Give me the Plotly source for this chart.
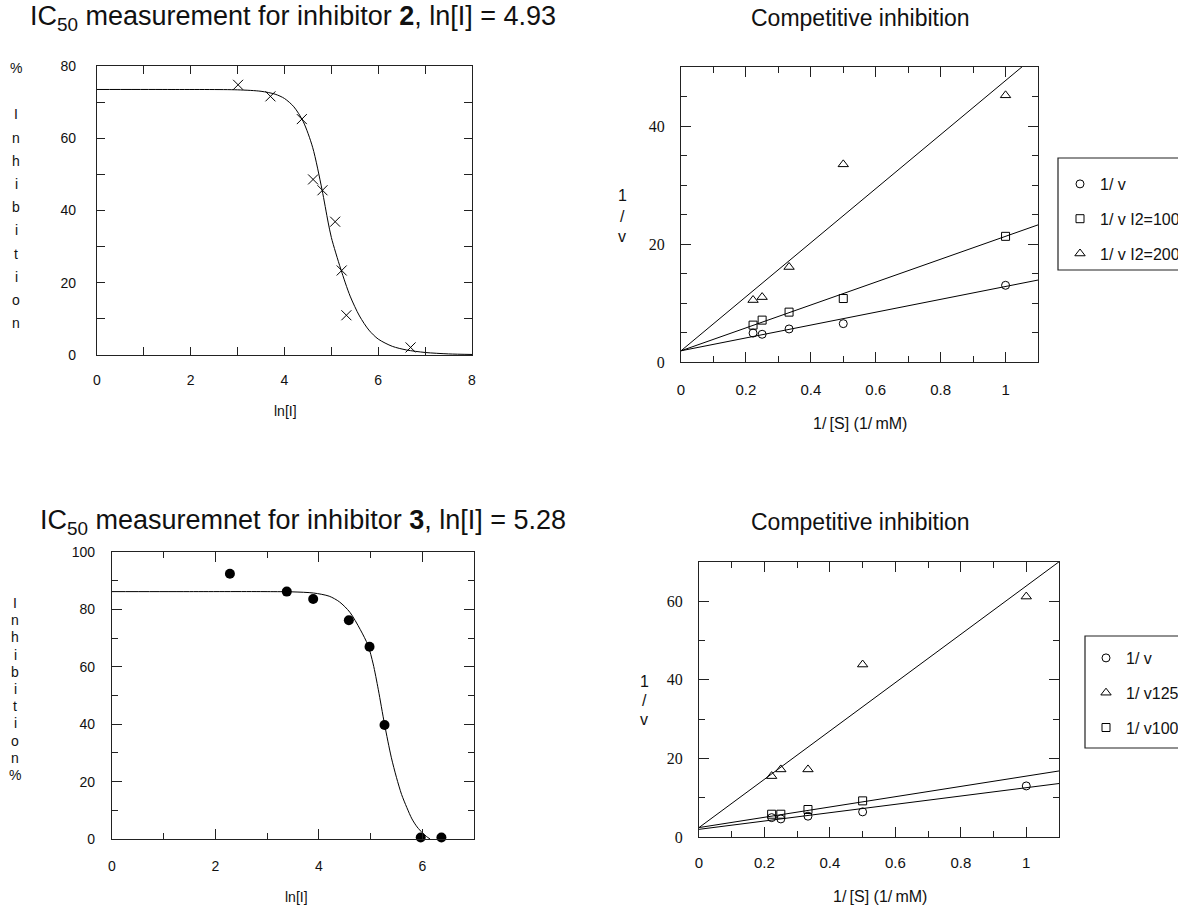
import plotly.graph_objects as go

W, H = 1178, 907

# ---------------- data ----------------
# Panel A: IC50 curve, inhibitor 2
a_lnI = [3.01, 3.70, 4.37, 4.61, 4.81, 5.08, 5.22, 5.32, 6.69]
a_inhib = [74.8, 71.6, 65.3, 48.6, 45.6, 36.9, 23.4, 11.0, 2.1]
a_fit_x = [0.0, 1.5, 3.0, 3.5, 3.8, 4.0, 4.2, 4.4, 4.6, 4.8, 4.93, 5.0, 5.2, 5.4, 5.6, 5.8, 6.0, 6.3, 6.6, 7.0, 7.5, 8.0]
a_fit_y = [73.5, 73.5, 73.4, 73.0, 72.2, 71.0, 68.7, 64.6, 57.5, 45.8, 36.8, 32.5, 23.8, 16.3, 10.8, 6.9, 4.4, 2.4, 1.4, 0.7, 0.3, 0.15]

# Panel C: IC50 curve, inhibitor 3
c_lnI = [2.28, 3.38, 3.89, 4.58, 4.98, 5.27, 5.97, 6.37]
c_inhib = [92.4, 86.2, 83.6, 76.2, 67.0, 39.7, 0.5, 0.5]
c_fit_x = [0.0, 1.5, 3.0, 3.5, 3.9, 4.2, 4.4, 4.6, 4.8, 4.95, 5.05, 5.15, 5.27, 5.4, 5.5, 5.6, 5.7, 5.8, 5.9, 6.0, 6.08, 6.15]
c_fit_y = [86.2, 86.2, 86.2, 86.1, 85.7, 84.6, 82.6, 79.0, 73.0, 67.5, 61.0, 52.0, 40.0, 28.5, 21.5, 15.5, 11.0, 7.0, 4.2, 2.2, 0.9, 0.0]

# Panel B: Lineweaver-Burk, inhibitor 2
b_s_inv = [0.222, 0.25, 0.333, 0.5, 1.0]
b_v_inv = [4.9, 4.7, 5.6, 6.5, 13.0]
b_v_inv_100 = [6.25, 7.1, 8.45, 10.76, 21.3]
b_v_inv_200 = [10.5, 11.0, 16.1, 33.5, 45.2]
b_names = ["1/ v", "1/ v I2=100", "1/ v I2=200"]
b_intercepts = [1.9, 1.9, 1.9]
b_slopes = [10.9, 19.4, 45.8]

# Panel D: Lineweaver-Burk, inhibitor 3
d_s_inv = [0.222, 0.25, 0.333, 0.5, 1.0]
d_v_inv = [4.93, 4.6, 5.3, 6.4, 13.0]
d_v_inv_125 = [15.5, 17.2, 17.2, 43.9, 61.2]
d_s_inv_100 = [0.222, 0.25, 0.333, 0.5]
d_v_inv_100 = [5.8, 5.8, 7.0, 9.2]
d_names = ["1/ v", "1/ v125", "1/ v100"]
d_intercepts = [1.95, 2.4, 2.4]
d_slopes = [10.6, 61.5, 13.1]

# ---------------- layout helpers ----------------
SANS = "Liberation Sans, Arial, sans-serif"
SERIF = "Liberation Serif"
INK = "#111111"

def xdom(l, r):
    return [l / W, r / W]

def ydom(t, b):
    return [1 - b / H, 1 - t / H]

def px_x(x):
    return x / W

def px_y(y):
    return 1 - y / H

fig = go.Figure()

mk_line = dict(color="black", width=1)

# Panel A
fig.add_trace(go.Scatter(x=a_fit_x, y=a_fit_y, mode="lines", line=dict(color="black", width=1, shape="spline", smoothing=0.8),
                         xaxis="x", yaxis="y", showlegend=False, hoverinfo="skip"))
fig.add_trace(go.Scatter(x=a_lnI, y=a_inhib, mode="markers",
                         marker=dict(symbol="x-thin", size=10, color="black", line=mk_line),
                         xaxis="x", yaxis="y", showlegend=False, cliponaxis=False))

# Panel B
b_series = [b_v_inv, b_v_inv_100, b_v_inv_200]
b_symbols = ["circle-open", "square-open", "triangle-up-open"]
b_sizes = [8, 8, 9]
b_xr = [0, 1.1]
for ic, sl in zip(b_intercepts, b_slopes):
    fig.add_trace(go.Scatter(x=b_xr, y=[ic + sl * xx for xx in b_xr], mode="lines", line=dict(color="black", width=1),
                             xaxis="x2", yaxis="y2", showlegend=False, hoverinfo="skip"))
for name, ys, sym, sz in zip(b_names, b_series, b_symbols, b_sizes):
    fig.add_trace(go.Scatter(x=b_s_inv, y=ys, mode="markers", name=name,
                             marker=dict(symbol=sym, size=sz, color="black", line=mk_line),
                             xaxis="x2", yaxis="y2", legend="legend", legendgroup="b" + name))

# Panel C
fig.add_trace(go.Scatter(x=c_fit_x, y=c_fit_y, mode="lines", line=dict(color="black", width=1, shape="spline", smoothing=0.8),
                         xaxis="x3", yaxis="y3", showlegend=False, hoverinfo="skip"))
fig.add_trace(go.Scatter(x=c_lnI, y=c_inhib, mode="markers",
                         marker=dict(symbol="circle", size=10, color="black"),
                         xaxis="x3", yaxis="y3", showlegend=False, cliponaxis=False))

# Panel D
d_series_x = [d_s_inv, d_s_inv, d_s_inv_100]
d_series_y = [d_v_inv, d_v_inv_125, d_v_inv_100]
d_symbols = ["circle-open", "triangle-up-open", "square-open"]
d_sizes = [8, 9, 8]
for ic, sl in zip(d_intercepts, d_slopes):
    fig.add_trace(go.Scatter(x=b_xr, y=[ic + sl * xx for xx in b_xr], mode="lines", line=dict(color="black", width=1),
                             xaxis="x4", yaxis="y4", showlegend=False, hoverinfo="skip"))
for name, xs, ys, sym, sz in zip(d_names, d_series_x, d_series_y, d_symbols, d_sizes):
    fig.add_trace(go.Scatter(x=xs, y=ys, mode="markers", name=name,
                             marker=dict(symbol=sym, size=sz, color="black", line=mk_line),
                             xaxis="x4", yaxis="y4", legend="legend2", legendgroup="d" + name))


def axis(domain, rng, dtick, minor_dtick, font, anchor, standoff, major_len=10, minor_len=6):
    return dict(domain=domain, range=rng, dtick=dtick, tick0=0, anchor=anchor,
                showline=True, linecolor="#222", linewidth=1.2, mirror="ticks",
                ticks="inside", ticklen=major_len, tickwidth=1, tickcolor="#222",
                minor=dict(dtick=minor_dtick, tick0=0, ticks="inside", ticklen=minor_len, tickwidth=1, tickcolor="#222", showgrid=False),
                showgrid=False, zeroline=False, tickfont=font, ticklabelstandoff=standoff, fixedrange=True)

f_left = dict(family=SANS, size=14, color=INK)
f_rx = dict(family=SANS, size=15, color=INK)
f_ry = dict(family=SERIF, size=16, color=INK)

TA = (97, 472, 66, 355)
TB = (681, 1038, 67, 362)
TC = (112, 474, 552, 839)
TD = (699, 1059, 562, 837)

fig.update_layout(
    width=W, height=H,
    margin=dict(l=0, r=0, t=0, b=0, autoexpand=False),
    paper_bgcolor="white", plot_bgcolor="white",
    xaxis=axis(xdom(TA[0], TA[1]), [0, 8], 2, 1, f_left, "y", 12, 8, 8),
    yaxis=axis(ydom(TA[2], TA[3]), [0, 80], 20, 10, f_left, "x", 17, 8, 8),
    xaxis2=axis(xdom(TB[0], TB[1]), [0, 1.1], 0.2, 0.1, f_rx, "y2", 14),
    yaxis2=axis(ydom(TB[2], TB[3]), [0, 50], 20, 5, f_ry, "x2", 12),
    xaxis3=axis(xdom(TC[0], TC[1]), [0, 7], 2, 1, f_left, "y3", 14),
    yaxis3=axis(ydom(TC[2], TC[3]), [0, 100], 20, 10, f_left, "x3", 13),
    xaxis4=axis(xdom(TD[0], TD[1]), [0, 1.1], 0.2, 0.1, f_rx, "y4", 12),
    yaxis4=axis(ydom(TD[2], TD[3]), [0, 70], 20, 10, f_ry, "x4", 12),
    legend=dict(x=px_x(1060), y=px_y(167), xanchor="left", yanchor="top", borderwidth=0, bgcolor="rgba(0,0,0,0)",
                font=dict(family=SANS, size=16, color=INK), tracegroupgap=11, itemclick=False, itemdoubleclick=False),
    legend2=dict(x=px_x(1086), y=px_y(641), xanchor="left", yanchor="top", borderwidth=0, bgcolor="rgba(0,0,0,0)",
                 font=dict(family=SANS, size=16, color=INK), tracegroupgap=11, itemclick=False, itemdoubleclick=False),
    showlegend=True,
)

# legend frames
fig.add_shape(type="rect", xref="paper", yref="paper", x0=px_x(1058), x1=px_x(1240), y0=px_y(270), y1=px_y(158),
              line=dict(color="#222", width=1.2), fillcolor="rgba(0,0,0,0)")
fig.add_shape(type="rect", xref="paper", yref="paper", x0=px_x(1085), x1=px_x(1240), y0=px_y(748), y1=px_y(636),
              line=dict(color="#222", width=1.2), fillcolor="rgba(0,0,0,0)")

ann = []

def text(x, y, s, size=13, family=SANS, xanchor="center"):
    ann.append(dict(x=px_x(x), y=px_y(y), xref="paper", yref="paper", text=s, showarrow=False,
                    xanchor=xanchor, yanchor="middle", font=dict(family=family, size=size, color=INK)))

# titles
text(28, 18, "IC<sub>50</sub> measurement for inhibitor <b>2</b>, ln[I] = 4.93", 27, xanchor="left")
text(860, 18, "Competitive inhibition", 23)
text(38, 522, "IC<sub>50</sub> measuremnet for inhibitor <b>3</b>, ln[I] = 5.28", 27, xanchor="left")
text(860, 522, "Competitive inhibition", 23)

# x titles
text(285, 411, "ln[I]", 14)
text(860, 424, "1/\u2009[S] (1/\u2009mM)", 16)
text(296, 897, "ln[I]", 14)
text(880, 896, "1/\u2009[S] (1/\u2009mM)", 16)

# stacked y titles
ya_letters = ["%", "", "I", "n", "h", "i", "b", "i", "t", "i", "o", "n"]
for i, ch in enumerate(ya_letters):
    if ch:
        text(16, 68 + i * 23.2, ch, 14)
yc_letters = ["I", "n", "h", "i", "b", "i", "t", "i", "o", "n", "%"]
for i, ch in enumerate(yc_letters):
    text(15, 603 + i * 17.2, ch, 14)
for i, ch in enumerate(["1", "/", "v"]):
    text(622, 195 + i * 21, ch, 16)
    text(644, 681 + i * 19, ch, 16)

fig.update_layout(annotations=ann)

fig.write_html("out.html")
